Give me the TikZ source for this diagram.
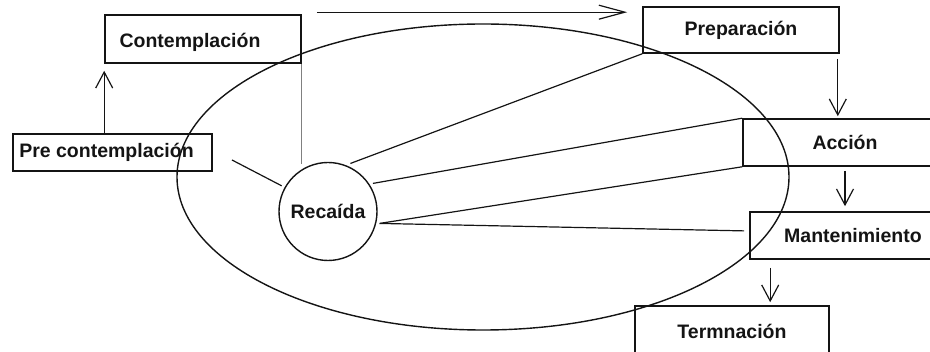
\documentclass[tikz,border=0pt]{standalone}
\usepackage{fontspec}
\setmainfont{Liberation Sans}
\usetikzlibrary{arrows.meta}
\definecolor{ink}{HTML}{141414}
\tikzset{
  box/.style={draw=ink, line width=1.6pt, inner sep=0pt, rectangle},
  lbl/.style={text=ink, font=\bfseries\fontsize{19.5}{22}\selectfont},
  link/.style={draw=ink, line width=1.2pt},
  arr/.style={link, -{Straight Barb[length=16pt,width=17pt]}},
}
\begin{document}
\begin{tikzpicture}[x=1pt, y=-1pt]
\useasboundingbox (0,0) rectangle (930,352);
\clip (0,0) rectangle (930,352);
	\draw[ink, line width=1.4pt] (483,177) ellipse [x radius=306, y radius=153];
	\node[box, minimum width=196pt, minimum height=48pt,
	  label={[lbl, xshift=-13pt, yshift=-3pt]center:Contemplación}] (cont) at (203,39) {};
	\node[box, minimum width=199pt, minimum height=37pt,
	  label={[lbl, xshift=-6pt]center:Pre contemplación}] (pre) at (112.5,152.5) {};
	\node[box, lbl, minimum width=196pt, minimum height=46pt] (prep) at (741,30) {Preparación};
	\node[box, lbl, minimum width=204pt, minimum height=47pt] (acc) at (845,142.5) {Acción};
	\node[box, lbl, minimum width=206pt, minimum height=47pt] (mant) at (853,235.5) {Mantenimiento};
	\node[box, lbl, minimum width=194pt, minimum height=50pt] (term) at (732,331) {Termnación};
	\node[draw=ink, line width=1.4pt, circle, minimum size=98pt, inner sep=0pt,
	  outer sep=4pt, lbl] (recaida) at (328,211.5) {Recaída};
	\coordinate (preend) at (232,160);
\draw[arr, shorten >=7pt] (pre.north -| cont.west) -- (cont.south west);
\draw[link, -{Straight Barb[length=26pt,width=14pt]}] ([xshift=15pt,yshift=2pt]cont.north east) -- ([xshift=-15pt,yshift=2pt]cont.north east -| prep.west);
\draw[arr, shorten <=5pt, shorten >=2pt] ([xshift=-2pt]prep.south east) -- ([xshift=-2pt]prep.south east |- acc.north);
\draw[arr, shorten <=4pt, shorten >=5pt] (acc.south) -- (acc.south |- mant.north);
\draw[arr, shorten <=8pt, shorten >=3pt] ([xshift=21pt]mant.south west) -- ([xshift=21pt]mant.south west |- term.north);
\draw[link, draw=gray] (cont.south east) -- (cont.south east |- recaida.117);
\draw[link] (preend) -- (recaida.151);
\draw[link] (recaida.65) -- (prep.south west);
\draw[link] (recaida.32) -- (acc.north west);
\draw[link] (recaida.-13) -- (acc.south west);
\draw[link, shorten >=5pt] (recaida.-13) -- ([yshift=4.5pt]mant.west);
\end{tikzpicture}
\end{document}
